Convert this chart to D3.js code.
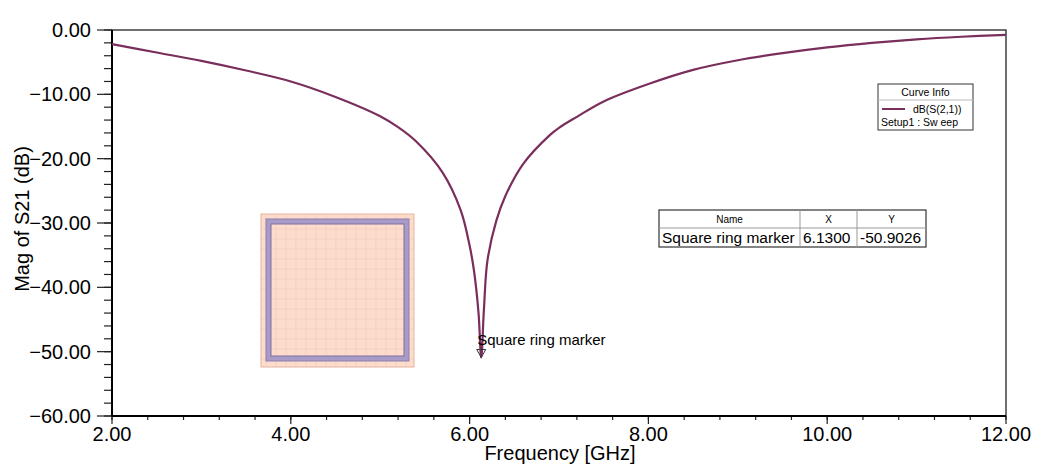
<!DOCTYPE html>
<html>
<head>
<meta charset="utf-8">
<script src="https://cdn.jsdelivr.net/npm/d3@7"></script>
<style>
  body { margin: 0; background: #fff; }
  svg { font-family: "Liberation Sans", Arial, sans-serif; }
</style>
</head>
<body>
<svg id="chart" width="1041" height="471"></svg>
<script>
// S21 sweep
const freqGHz = [2.0, 2.5, 3.0, 3.5, 4.0, 4.5, 5.0, 5.2, 5.4, 5.7, 5.9, 6.0, 6.05, 6.1, 6.13,
  6.16, 6.2, 6.3, 6.4, 6.6, 6.9, 7.0, 7.2, 7.5, 8.0, 8.5, 9.0, 9.5, 10.0, 10.5, 11.0, 11.5, 12.0];
const s21dB = [-2.2, -3.5, -4.8, -6.3, -8.0, -10.4, -13.4, -15.1, -17.3, -22.2, -28.0, -33.5, -37.5, -44.0, -50.9,
  -43.5, -35.8, -29.6, -25.8, -20.8, -16.3, -15.2, -13.5, -11.1, -8.4, -6.2, -4.7, -3.6, -2.7, -2.0, -1.45, -1.05, -0.75];

const xTicks = [2, 4, 6, 8, 10, 12];
const yTicks = [0, -10, -20, -30, -40, -50, -60];

const markerName = "Square ring marker";
const markerX = 6.13;
const markerY = -50.9026;

const legendTitle = "Curve Info";
const legendSeries = "dB(S(2,1))";
const legendSetup = "Setup1 : Sw eep";

const curveColor = "#7a2e5c";

const svg = d3.select("#chart");
const margin = { left: 112, right: 35, top: 30, bottom: 55 };
const W = 1041, H = 471;

const x = d3.scaleLinear().domain([2, 12]).range([margin.left, W - margin.right]);
const y = d3.scaleLinear().domain([-60, 0]).range([H - margin.bottom, margin.top]);

// minor ticks: 5 divisions between majors
const xMinor = d3.range(2, 12.0001, 0.4);
const yMinor = d3.range(-60, 0.0001, 2);

// frame
svg.append("rect")
  .attr("x", x(2)).attr("y", y(0))
  .attr("width", x(12) - x(2)).attr("height", y(-60) - y(0))
  .attr("fill", "none").attr("stroke", "#222").attr("stroke-width", 1.3);

// y axis
const yAxis = svg.append("g").attr("transform", `translate(${x(2)},0)`);
yAxis.selectAll(".minor").data(yMinor).join("line")
  .attr("x1", -8).attr("x2", 0)
  .attr("y1", d => y(d)).attr("y2", d => y(d))
  .attr("stroke", "#222").attr("stroke-width", 1.2);
yAxis.selectAll(".major").data(yTicks).join("line")
  .attr("x1", -15).attr("x2", 0)
  .attr("y1", d => y(d)).attr("y2", d => y(d))
  .attr("stroke", "#222").attr("stroke-width", 1.2);
yAxis.selectAll("text").data(yTicks).join("text")
  .attr("x", -21).attr("y", d => y(d) + 7)
  .attr("text-anchor", "end")
  .attr("font-size", 20)
  .text(d => d3.format(".2f")(d));
yAxis.append("line")
  .attr("y1", y(-60)).attr("y2", y(0))
  .attr("stroke", "#000").attr("stroke-width", 2);

// x axis
const xAxis = svg.append("g").attr("transform", `translate(0,${y(-60)})`);
xAxis.selectAll(".minor").data(xMinor).join("line")
  .attr("x1", d => x(d)).attr("x2", d => x(d))
  .attr("y1", 0).attr("y2", 4)
  .attr("stroke", "#222").attr("stroke-width", 1.2);
xAxis.selectAll(".major").data(xTicks).join("line")
  .attr("x1", d => x(d)).attr("x2", d => x(d))
  .attr("y1", 0).attr("y2", 8)
  .attr("stroke", "#222").attr("stroke-width", 1.2);
xAxis.selectAll("text").data(xTicks).join("text")
  .attr("x", d => x(d)).attr("y", 25)
  .attr("text-anchor", "middle")
  .attr("font-size", 20)
  .text(d => d3.format(".2f")(d));
xAxis.append("line")
  .attr("x1", x(2)).attr("x2", x(12))
  .attr("stroke", "#000").attr("stroke-width", 2);

// axis titles
svg.append("text")
  .attr("x", 560).attr("y", 460)
  .attr("text-anchor", "middle").attr("font-size", 20)
  .text("Frequency [GHz]");
svg.append("text")
  .attr("transform", `translate(29,219) rotate(-90)`)
  .attr("text-anchor", "middle").attr("font-size", 20)
  .text("Mag of S21 (dB)");

// inset picture of the square ring (drawn, not data)
const inset = svg.append("g").attr("transform", "translate(261,214)");
const inSize = 153;
const gridCol = "#f0cbbb";
inset.append("rect").attr("width", inSize).attr("height", inSize)
  .attr("fill", "#fcdccc").attr("stroke", "#e6b49c").attr("stroke-width", 1);
d3.range(5, inSize, 10).forEach(p => {
  inset.append("line").attr("x1", p).attr("x2", p).attr("y1", 0).attr("y2", inSize)
    .attr("stroke", gridCol).attr("stroke-width", 0.6);
  inset.append("line").attr("y1", p).attr("y2", p).attr("x1", 0).attr("x2", inSize)
    .attr("stroke", gridCol).attr("stroke-width", 0.6);
});
inset.append("rect").attr("x", 5).attr("y", 5).attr("width", inSize - 10).attr("height", inSize - 11)
  .attr("fill", "#a99bc8").attr("stroke", "#8f80ad").attr("stroke-width", 1);
inset.append("rect").attr("x", 10).attr("y", 10).attr("width", inSize - 20).attr("height", inSize - 21)
  .attr("fill", "#fcdccc").attr("stroke", "#7f6f9d").attr("stroke-width", 1);
d3.range(15, inSize - 10, 10).forEach(p => {
  inset.append("line").attr("x1", p).attr("x2", p).attr("y1", 11).attr("y2", inSize - 12)
    .attr("stroke", gridCol).attr("stroke-width", 0.6);
  inset.append("line").attr("y1", p).attr("y2", p).attr("x1", 11).attr("x2", inSize - 11)
    .attr("stroke", gridCol).attr("stroke-width", 0.6);
});

// curve
const pts = freqGHz.map((f, i) => [f, s21dB[i]]);
const line = d3.line().x(d => x(d[0])).y(d => y(d[1])).curve(d3.curveCatmullRom.alpha(0.5));
svg.append("path").datum(pts)
  .attr("d", line)
  .attr("fill", "none").attr("stroke", curveColor).attr("stroke-width", 2.2);

// marker
const mx = x(markerX), my = y(markerY);
svg.append("path")
  .attr("d", `M${mx - 4.5},${my - 8} L${mx + 4.5},${my - 8} L${mx},${my} Z`)
  .attr("fill", "none").attr("stroke", "#333").attr("stroke-width", 1);
svg.append("text")
  .attr("x", mx - 4).attr("y", my - 12)
  .attr("font-size", 15)
  .text(markerName);

// marker table
const tbl = svg.append("g").attr("transform", "translate(659,210)");
const cols = [0, 141, 198, 267];
const rowH = [0, 18, 37];
tbl.append("rect").attr("width", cols[3]).attr("height", rowH[2])
  .attr("fill", "#fff").attr("stroke", "#333").attr("stroke-width", 1.2);
tbl.append("line").attr("x1", 0).attr("x2", cols[3]).attr("y1", rowH[1]).attr("y2", rowH[1])
  .attr("stroke", "#999");
[cols[1], cols[2]].forEach(c => tbl.append("line")
  .attr("x1", c).attr("x2", c).attr("y1", 0).attr("y2", rowH[2]).attr("stroke", "#999"));
const heads = ["Name", "X", "Y"];
heads.forEach((h, i) => tbl.append("text")
  .attr("x", (cols[i] + cols[i + 1]) / 2).attr("y", 13)
  .attr("text-anchor", "middle").attr("font-size", 10).text(h));
const rowVals = [markerName, markerX.toFixed(4), markerY.toFixed(4)];
rowVals.forEach((v, i) => tbl.append("text")
  .attr("x", cols[i] + 3).attr("y", 33)
  .attr("font-size", 15.5).text(v));

// legend
const lg = svg.append("g").attr("transform", "translate(878,84)");
lg.append("rect").attr("width", 95).attr("height", 46)
  .attr("fill", "#fff").attr("stroke", "#333").attr("stroke-width", 1);
lg.append("line").attr("x1", 0).attr("x2", 95).attr("y1", 16).attr("y2", 16).attr("stroke", "#bbb");
lg.append("text").attr("x", 47.5).attr("y", 12).attr("text-anchor", "middle")
  .attr("font-size", 10.5).text(legendTitle);
lg.append("line").attr("x1", 4).attr("x2", 27).attr("y1", 25).attr("y2", 25)
  .attr("stroke", curveColor).attr("stroke-width", 2);
lg.append("text").attr("x", 35).attr("y", 29).attr("font-size", 10.5).text(legendSeries);
lg.append("text").attr("x", 3).attr("y", 42).attr("font-size", 10.5).text(legendSetup);
</script>
</body>
</html>
